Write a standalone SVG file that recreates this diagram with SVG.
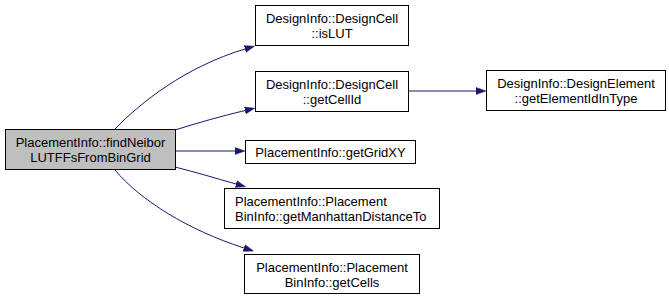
<svg xmlns="http://www.w3.org/2000/svg" width="669" height="300" viewBox="0 0 669 300">
  <style>
    .node rect { fill: #ffffff; stroke: #000000; stroke-width: 1; }
    .node.root rect { fill: #bfbfbf; }
    .node text { font-family: "Liberation Sans", Arial, sans-serif; font-size: 13px; fill: #000000; }
    .c { text-anchor: middle; }
    .edge { fill: none; stroke: #191970; stroke-width: 1; marker-end: url(#arrow); }
  </style>
  <defs>
    <marker id="arrow" markerUnits="userSpaceOnUse" markerWidth="10" markerHeight="8" viewBox="0 0 10 8" refX="0" refY="4" orient="auto">
      <path d="M0,0.5 L10,4 L0,7.5 z" fill="#191970" stroke="#191970" stroke-width="0.5"/>
    </marker>
  </defs>

  <rect width="669" height="300" fill="#ffffff"/>

  <!-- call edges from the root function -->
  <g id="edges">
    <path class="edge" d="M115,129 C140,103 185,67 245,49"/>
    <path class="edge" d="M175,130 C197,123 222,116 245,110.5"/>
    <path class="edge" d="M175,151 L235,151"/>
    <path class="edge" d="M175,167 C195,172 215,178 236,184"/>
    <path class="edge" d="M115,170 C140,200 188,230 244,248"/>
    <path class="edge" d="M408,91 L476,91"/>
  </g>

  <g id="findNeiborLUTFFsFromBinGrid" class="node root">
    <rect x="5.5" y="129.5" width="170" height="40"/>
    <text class="c" x="90.5" y="147.2">PlacementInfo::findNeibor<tspan x="90.5" dy="14.7">LUTFFsFromBinGrid</tspan></text>
  </g>

  <g id="isLUT" class="node">
    <rect x="255.5" y="5.5" width="153" height="40"/>
    <text class="c" x="332" y="23.2">DesignInfo::DesignCell<tspan x="332" dy="14.7">::isLUT</tspan></text>
  </g>

  <g id="getCellId" class="node">
    <rect x="255.5" y="71.5" width="153" height="40"/>
    <text class="c" x="332" y="89.2">DesignInfo::DesignCell<tspan x="332" dy="14.7">::getCellId</tspan></text>
  </g>

  <g id="getElementIdInType" class="node">
    <rect x="486.5" y="70.5" width="179" height="40"/>
    <text class="c" x="576" y="88.2">DesignInfo::DesignElement<tspan x="576" dy="14.7">::getElementIdInType</tspan></text>
  </g>

  <g id="getGridXY" class="node">
    <rect x="245.5" y="140.5" width="170" height="23"/>
    <text class="c" x="330.5" y="156.5">PlacementInfo::getGridXY</text>
  </g>

  <g id="getManhattanDistanceTo" class="node">
    <rect x="224.5" y="188.5" width="215" height="40"/>
    <text x="235" y="206.2">PlacementInfo::Placement<tspan x="235" dy="14.7">BinInfo::getManhattanDistanceTo</tspan></text>
  </g>

  <g id="getCells" class="node">
    <rect x="244.5" y="254.5" width="175" height="39"/>
    <text class="c" x="332" y="272.2">PlacementInfo::Placement<tspan x="332" dy="14.7">BinInfo::getCells</tspan></text>
  </g>
</svg>
